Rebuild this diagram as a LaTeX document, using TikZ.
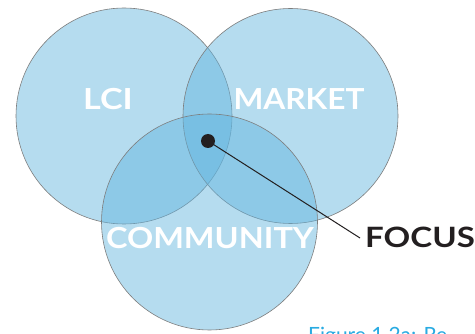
\documentclass[tikz,border=0pt]{standalone}
\usepackage{fontspec}
\setmainfont{Lato}
\newcommand{\widen}[2]{\scalebox{#1}[1]{#2}}
\begin{document}
\begin{tikzpicture}[x=1pt,y=-1pt,
  venn/.style={fill=vennblue,fill opacity=0.47,draw=ringgray,line width=0.6pt},
  vlabel/.style={text=white,font=\fontsize{29}{29}\selectfont\bfseries,inner sep=0pt,anchor=base},
  focuslabel/.style={text=focusblack,font=\fontsize{28}{28}\selectfont\bfseries,inner sep=0pt,anchor=base west},
  caption/.style={text=captionblue,font=\fontsize{21}{21}\selectfont,inner sep=0pt,anchor=base west}]
\definecolor{vennblue}{RGB}{98,181,223}
\definecolor{ringgray}{RGB}{125,125,125}
\definecolor{focusblack}{RGB}{35,31,32}
\definecolor{captionblue}{RGB}{41,171,226}
\useasboundingbox (0,0) rectangle (475,334);
\fill[white] (0,0) rectangle (475,334);
\path[venn] (124,116) circle[radius=108];
\path[venn] (290.5,116) circle[radius=107.5];
\path[venn] (209.5,222) circle[radius=108];
\node[vlabel] (lci) at (108,110) {\widen{1.18}{LCI}};
\node[vlabel] (market) at (299,110) {\widen{1.09}{MARKET}};
\node[vlabel] (community) at (210,249) {\widen{1.12}{COMMUNITY}};
\node[circle,fill=focusblack,minimum size=14pt,inner sep=0pt] (dot) at (208,141) {};
\coordinate (lineend) at (360,238);
\draw[focusblack,line width=1pt] (dot.center) -- (lineend);
\node[focuslabel] (focus) at (365,248) {\widen{1.18}{FOCUS}};
\node[caption] (cap) at (308,343) {Figure 1.2a: Re};
\end{tikzpicture}
\end{document}
